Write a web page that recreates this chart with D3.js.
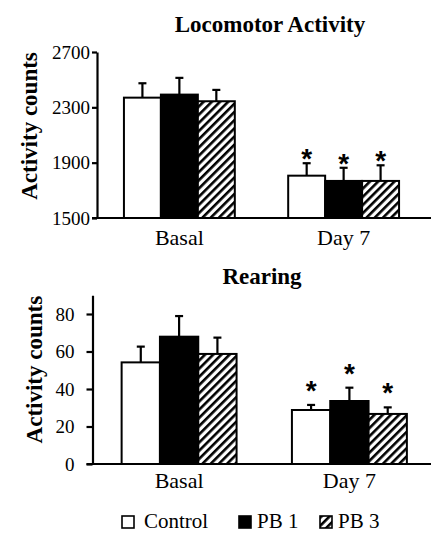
<!DOCTYPE html>
<html>

<head>
    <title>locomotor</title>
    <script src="https://cdn.jsdelivr.net/npm/d3@7"></script>
    <style>
        body { margin: 0; background: #fff; }
        text { font-family: "Liberation Serif", "Times New Roman", serif; fill: #000; }
    </style>
</head>

<body>
    <script>
        const width = 431;
        const height = 533;

        // data
        const groups = ["Basal", "Day 7"];
        const series = ["Control", "PB 1", "PB 3"];

        const locoMean = [[2370, 2392, 2344], [1806, 1768, 1768]];
        const locoErr = [[104, 121, 82], [90, 95, 113]];
        const locoStar = [[false, false, false], [true, true, true]];
        const locoTicks = [1500, 1900, 2300, 2700];

        const rearMean = [[54.2, 67.9, 58.7], [28.8, 33.6, 26.7]];
        const rearErr = [[8.4, 11, 8.7], [2.7, 7.1, 3.5]];
        const rearStar = [[false, false, false], [true, true, true]];
        const rearTicks = [0, 20, 40, 60, 80];

        const svg = d3.select("body").append("svg")
            .attr("width", width).attr("height", height);

        // hatch pattern for PB 3
        const defs = svg.append("defs");
        defs.append("pattern")
            .attr("id", "hatch")
            .attr("patternUnits", "userSpaceOnUse")
            .attr("width", 5.8).attr("height", 5.8)
            .attr("patternTransform", "rotate(45)")
            .call(p => p.append("rect").attr("width", 5.8).attr("height", 5.8).attr("fill", "#fff"))
            .append("rect")
            .attr("x", 0).attr("y", 0)
            .attr("width", 2.6).attr("height", 5.8)
            .attr("fill", "#000");

        const fills = ["#fff", "#000", "url(#hatch)"];

        function panel(opt) {
            const g = svg.append("g");

            const x = d3.scaleBand().domain(groups)
                .range(opt.xRange)
                .paddingInner(0.325).paddingOuter(opt.outer);
            const xs = d3.scaleBand().domain(series)
                .range([0, x.bandwidth()]);
            const y = d3.scaleLinear().domain(opt.domain).range(opt.yRange);

            // title
            g.append("text")
                .attr("x", opt.titleX).attr("y", opt.titleY)
                .attr("text-anchor", "middle")
                .attr("font-size", 23).attr("font-weight", "bold")
                .text(opt.title);

            // y label
            g.append("text")
                .attr("transform", `translate(${opt.labelX},${(opt.yRange[0] + opt.yRange[1]) / 2 + opt.labelDy}) rotate(-90)`)
                .attr("text-anchor", "middle")
                .attr("font-size", 23).attr("font-weight", "bold")
                .text("Activity counts");

            // bars
            const rows = [];
            groups.forEach((gr, i) => series.forEach((s, j) => rows.push({
                g: gr, s: s, j: j, v: opt.mean[i][j], e: opt.err[i][j], star: opt.star[i][j]
            })));

            const bx = d => x(d.g) + xs(d.s);

            // error bars (upper only)
            const eb = g.append("g").selectAll("g").data(rows).join("g")
                .attr("stroke", "#000").attr("stroke-width", 2.2);
            eb.append("line")
                .attr("x1", d => bx(d) + xs.bandwidth() / 2)
                .attr("x2", d => bx(d) + xs.bandwidth() / 2)
                .attr("y1", d => y(d.v))
                .attr("y2", d => y(d.v + d.e));
            eb.append("line")
                .attr("x1", d => bx(d) + xs.bandwidth() / 2 - 4)
                .attr("x2", d => bx(d) + xs.bandwidth() / 2 + 4)
                .attr("y1", d => y(d.v + d.e))
                .attr("y2", d => y(d.v + d.e));

            g.append("g").selectAll("rect").data(rows).join("rect")
                .attr("x", d => bx(d))
                .attr("width", xs.bandwidth())
                .attr("y", d => y(d.v))
                .attr("height", d => y(opt.domain[0]) - y(d.v))
                .attr("fill", d => fills[d.j])
                .attr("stroke", "#000").attr("stroke-width", 2);

            // significance stars
            g.append("g").selectAll("text").data(rows.filter(d => d.star)).join("text")
                .attr("x", d => bx(d) + xs.bandwidth() / 2)
                .attr("y", d => y(d.v + d.e) - opt.starGap + 16)
                .attr("text-anchor", "middle")
                .style("font-family", "'Liberation Sans', Arial, sans-serif")
                .attr("font-weight", "bold")
                .attr("font-size", 28)
                .text("*");

            // y axis
            const ya = g.append("g")
                .attr("transform", `translate(${opt.xRange[0]},0)`)
                .call(d3.axisLeft(y).tickValues(opt.ticks).tickFormat(d3.format("d"))
                    .tickSize(opt.tickLen).tickPadding(opt.tickPad).tickSizeOuter(0));
            ya.select(".domain").attr("stroke-width", 2.2);
            ya.selectAll(".tick line").attr("stroke-width", 2.2);
            ya.selectAll(".tick text")
                .attr("font-family", "'Liberation Serif', serif")
                .attr("font-size", 19);

            // x baseline
            g.append("line")
                .attr("x1", opt.xRange[0] - opt.tickLen).attr("x2", width)
                .attr("y1", y(opt.domain[0])).attr("y2", y(opt.domain[0]))
                .attr("stroke", "#000").attr("stroke-width", 2.2);

            // category labels
            g.append("g").selectAll("text").data(groups).join("text")
                .attr("x", d => x(d) + x.bandwidth() / 2)
                .attr("y", y(opt.domain[0]) + opt.catDy)
                .attr("text-anchor", "middle")
                .attr("font-size", 22)
                .text(d => d);
        }

        panel({
            title: "Locomotor Activity", titleX: 270, titleY: 32,
            mean: locoMean, err: locoErr, star: locoStar, ticks: locoTicks,
            domain: [1500, 2700], yRange: [218, 52],
            xRange: [97, 426], outer: 0.164,
            labelX: 37, labelDy: -9,
            tickLen: 5, tickPad: 2, starGap: 11, catDy: 27
        });

        panel({
            title: "Rearing", titleX: 262, titleY: 284,
            mean: rearMean, err: rearErr, star: rearStar, ticks: rearTicks,
            domain: [0, 90], yRange: [464, 295.25],
            xRange: [92.5, 436], outer: 0.171,
            labelX: 42, labelDy: -10,
            tickLen: 6, tickPad: 12, starGap: 21, catDy: 24
        });

        // legend
        const legendX = [122, 239, 320];
        const legend = svg.append("g").selectAll("g").data(series).join("g")
            .attr("transform", (d, i) => `translate(${legendX[i]},516)`);
        legend.append("rect")
            .attr("width", 12).attr("height", 12)
            .attr("fill", (d, i) => fills[i])
            .attr("stroke", "#000").attr("stroke-width", 1.6);
        legend.append("text")
            .attr("x", (d, i) => i === 0 ? 22 : 18)
            .attr("y", 12)
            .attr("font-size", 21)
            .text(d => d);
    </script>
</body>

</html>
